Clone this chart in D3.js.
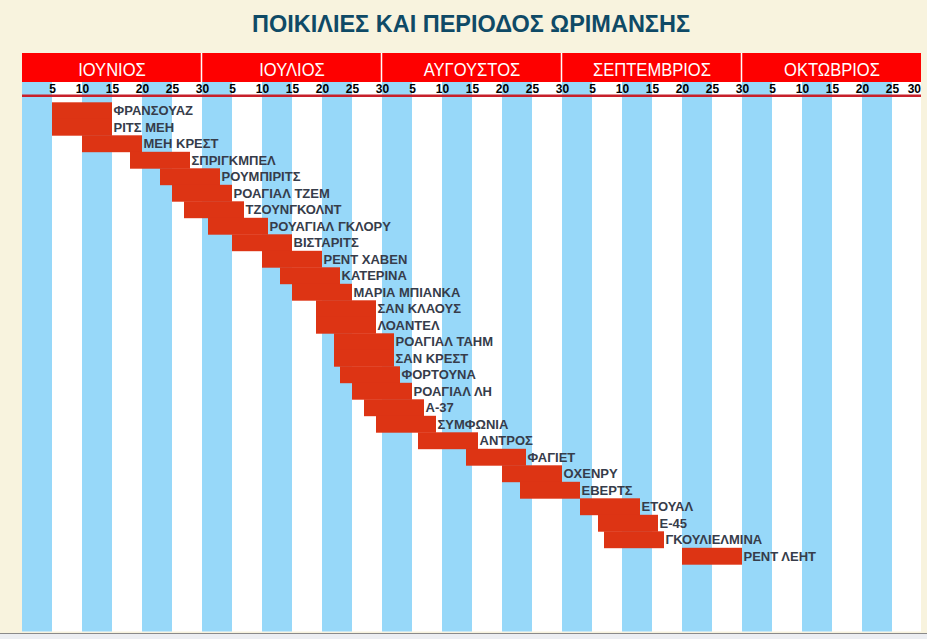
<!DOCTYPE html>
<html>
<head>
<meta charset="utf-8">
<script src="https://cdn.jsdelivr.net/npm/d3@7"></script>
<style>
  html, body { margin: 0; padding: 0; background: #f8f3de; }
  svg { display: block; }
</style>
</head>
<body>
<svg id="chart" width="927" height="639"></svg>
<script>
// ---------- DATA ----------
const titleText = "ΠΟΙΚΙΛΙΕΣ ΚΑΙ ΠΕΡΙΟΔΟΣ ΩΡΙΜΑΝΣΗΣ";
const months = ["ΙΟΥΝΙΟΣ", "ΙΟΥΛΙΟΣ", "ΑΥΓΟΥΣΤΟΣ", "ΣΕΠΤΕΜΒΡΙΟΣ", "ΟΚΤΩΒΡΙΟΣ"];
const dayTickLabels = ["5", "10", "15", "20", "25", "30"];
const varieties = [
  "ΦΡΑΝΣΟΥΑΖ", "ΡΙΤΣ ΜΕΗ", "ΜΕΗ ΚΡΕΣΤ", "ΣΠΡΙΓΚΜΠΕΛ", "ΡΟΥΜΠΙΡΙΤΣ",
  "ΡΟΑΓΙΑΛ ΤΖΕΜ", "ΤΖΟΥΝΓΚΟΛΝΤ", "ΡΟΥΑΓΙΑΛ ΓΚΛΟΡΥ", "ΒΙΣΤΑΡΙΤΣ", "ΡΕΝΤ ΧΑΒΕΝ",
  "ΚΑΤΕΡΙΝΑ", "ΜΑΡΙΑ ΜΠΙΑΝΚΑ", "ΣΑΝ ΚΛΑΟΥΣ", "ΛΟΑΝΤΕΛ", "ΡΟΑΓΙΑΛ ΤΑΗΜ",
  "ΣΑΝ ΚΡΕΣΤ", "ΦΟΡΤΟΥΝΑ", "ΡΟΑΓΙΑΛ ΛΗ", "Α-37", "ΣΥΜΦΩΝΙΑ",
  "ΑΝΤΡΟΣ", "ΦΑΓΙΕΤ", "ΟΧΕΝΡΥ", "ΕΒΕΡΤΣ", "ΕΤΟΥΑΛ",
  "Ε-45", "ΓΚΟΥΛΙΕΛΜΙΝΑ", "ΡΕΝΤ ΛΕΗΤ"
];
// day index counted from 1 June (30-day months: June 0-30, July 30-60, ...)
const startDays = [5, 5, 10, 18, 23, 25, 27, 31, 35, 40, 43, 45, 49, 49, 52, 52, 53, 55, 57, 59, 66, 74, 80, 83, 93, 96, 97, 110];
const endDays   = [15, 15, 20, 28, 33, 35, 37, 41, 45, 50, 53, 55, 59, 59, 62, 62, 63, 65, 67, 69, 76, 84, 90, 93, 103, 106, 107, 120];
const daysPerMonth = 30;

// ---------- LAYOUT ----------
const svg = d3.select("#chart");
const W = 927, H = 639;
const left = 22, right = 922, clipRight = 921;
const headerTop = 53, headerBottom = 82, tickBottom = 94.5, lineBottom = 97, plotBottom = 631.5;
const rowTop = 102.3, rowPitch = 16.5;

const totalDays = months.length * daysPerMonth;
const x = d3.scaleLinear().domain([0, totalDays]).range([left, right]);
const y = d3.scaleBand().domain(varieties).range([rowTop, rowTop + rowPitch * varieties.length]).padding(0);

const narrow = "'Liberation Sans Narrow', 'Arial Narrow', 'Liberation Sans', sans-serif";
const sans = "'Liberation Sans', Arial, sans-serif";

// background
svg.append("rect").attr("width", W).attr("height", H).attr("fill", "#f8f3de");
svg.append("rect").attr("x", 0).attr("y", 634).attr("width", W).attr("height", 5).attr("fill", "#eceef2");
svg.append("line").attr("x1", 0).attr("x2", W).attr("y1", 633.5).attr("y2", 633.5)
  .attr("stroke", "#8a8a8a").attr("stroke-width", 1.2);

// title
svg.append("text")
  .attr("x", 471).attr("y", 32)
  .attr("text-anchor", "middle")
  .attr("font-family", narrow).attr("font-weight", "bold").attr("font-size", 24)
  .attr("fill", "#0f4a66")
  .attr("textLength", 438).attr("lengthAdjust", "spacingAndGlyphs")
  .text(titleText);

// clip
svg.append("clipPath").attr("id", "clip")
  .append("rect").attr("x", left).attr("y", 0).attr("width", clipRight - left).attr("height", H);
const g = svg.append("g").attr("clip-path", "url(#clip)");

// white plot base (tick row + plot)
g.append("rect").attr("x", left).attr("y", headerBottom)
  .attr("width", right - left).attr("height", plotBottom - headerBottom).attr("fill", "#ffffff");

// blue stripes every other 5-day block
const stripeStarts = d3.range(0, totalDays, 10);
g.selectAll("rect.stripe").data(stripeStarts).join("rect")
  .attr("class", "stripe")
  .attr("x", d => x(d)).attr("y", headerBottom)
  .attr("width", d => x(d + 5) - x(d)).attr("height", plotBottom - headerBottom)
  .attr("fill", "#97d8f9");

// header band
g.append("rect").attr("x", left).attr("y", headerTop)
  .attr("width", right - left).attr("height", headerBottom - headerTop).attr("fill", "#fe0000");

// month labels (condensed look)
g.selectAll("text.month").data(months).join("text")
  .attr("class", "month")
  .attr("x", (d, i) => x(i * daysPerMonth + daysPerMonth / 2))
  .attr("y", 75.5)
  .attr("text-anchor", "middle")
  .attr("font-family", narrow).attr("font-size", 18)
  .attr("fill", "#ffffff")
  .text(d => d)
  .each(function () {
    const w = this.getComputedTextLength();
    d3.select(this).attr("textLength", w * 0.92).attr("lengthAdjust", "spacingAndGlyphs");
  });

// tick labels (axis)
const tickVals = d3.range(5, totalDays + 1, 5);
const axis = d3.axisBottom(x).tickValues(tickVals).tickSize(0).tickPadding(0)
  .tickFormat(d => dayTickLabels[((d / 5) - 1) % dayTickLabels.length]);
const ax = g.append("g").attr("transform", `translate(0, ${headerBottom + 2})`).call(axis);
ax.select(".domain").remove();
ax.selectAll("text")
  .attr("font-family", narrow).attr("font-weight", "bold").attr("font-size", 12)
  .attr("fill", "#000").attr("dy", "0.72em");
// keep the final label inside the visible area
ax.selectAll(".tick").filter(d => d === totalDays).select("text")
  .attr("text-anchor", "end").attr("x", clipRight - right - 0.5);

// month separators
const sepDays = d3.range(daysPerMonth, totalDays, daysPerMonth);
g.selectAll("line.sep").data(sepDays).join("line")
  .attr("class", "sep")
  .attr("x1", d => x(d) - 0.5).attr("x2", d => x(d) - 0.5)
  .attr("y1", headerTop).attr("y2", headerBottom)
  .attr("stroke", "#ffffff").attr("stroke-width", 1.5);

// dark red rule under tick row
g.append("rect").attr("x", left).attr("y", tickBottom)
  .attr("width", right - left).attr("height", lineBottom - tickBottom).attr("fill", "#c8202a");

// bars
g.selectAll("rect.bar").data(varieties).join("rect")
  .attr("class", "bar")
  .attr("x", (d, i) => x(startDays[i]))
  .attr("y", d => y(d))
  .attr("width", (d, i) => x(endDays[i]) - x(startDays[i]))
  .attr("height", y.bandwidth() + 0.4)
  .attr("fill", "#dd3414");

// bar labels
g.selectAll("text.lbl").data(varieties).join("text")
  .attr("class", "lbl")
  .attr("x", (d, i) => x(endDays[i]) + 1.5)
  .attr("y", d => y(d) + y.bandwidth() / 2 + 4.8)
  .attr("font-family", sans).attr("font-weight", "bold").attr("font-size", 13)
  .attr("fill", "#363c4a")
  .text(d => d);
</script>
</body>
</html>
